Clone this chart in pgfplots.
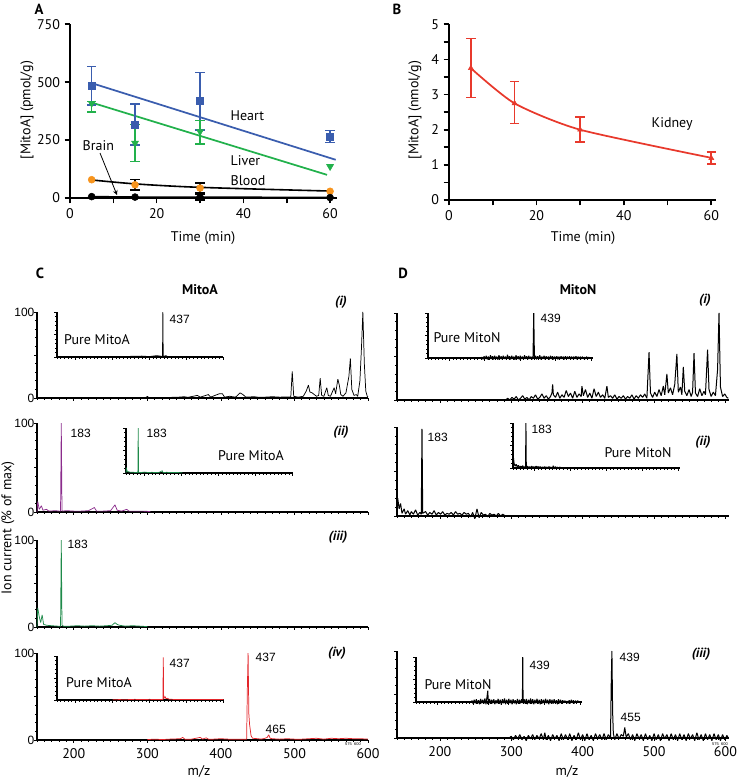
\documentclass[border=0pt]{standalone}
\usepackage{pgfplots}
\pgfplotsset{compat=1.18}
\usepackage{fontspec}
\setmainfont{PT Sans}
\newfontfamily\arialf{Liberation Sans}
\definecolor{heart}{HTML}{3A5DAE}
\definecolor{liver}{HTML}{22B14C}
\definecolor{blood}{HTML}{F7941D}
\definecolor{kid}{HTML}{E8392C}
\definecolor{purp}{HTML}{8B2C8C}
\definecolor{sgreen}{HTML}{1E8A4A}
\definecolor{sred}{HTML}{E3262B}
\newcommand\mf{\fontsize{10.5}{12}\selectfont}
\newcommand\af{\arialf\fontsize{9}{10}\selectfont}
\pgfplotsset{
 tabAB/.style={scale only axis, anchor=south west, axis lines=left, axis line style={line width=1.4pt,-}, tick style={black, line width=1.2pt}, tick align=outside, major tick length=4pt, minor tick length=4pt, tick label style={font=\mf}, /pgf/number format/assume math mode=true, clip=false, xmin=0, xtick={0,20,40,60}, minor xtick={10,30,50}},
 spec/.style={scale only axis, anchor=south west, axis lines=left, axis line style={line width=1pt,-}, tick style={black, line width=0.5pt}, tick align=outside, major tick length=2.2pt, minor tick length=1.4pt, ymin=0, ymax=100, ytick={0,50,100}, minor ytick={10,20,...,90}, yticklabels={}, xticklabels={}, clip=false},
 specC/.style={spec, xmin=150, xmax=600, xtick={200,300,...,600}, minor xtick={150,160,...,600}},
 specD/.style={spec, xmin=140, xmax=605, xtick={200,300,...,600}, minor xtick={140,150,...,600}},
 sp/.style={line width=0.55pt, line join=bevel, mark=none},
 spd/.style={line width=0.75pt, line join=bevel, mark=none},
 eb/.style={draw=none, mark=none, error bars/.cd, y dir=both, y explicit, error mark=-, error bar style={draw=#1, line width=1.2pt, solid}, error mark options={draw=#1, line width=1.2pt, mark size=3.5pt, rotate=90}},
}
\newcommand\at[2]{at={({#1*0.75pt},{-#2*0.75pt})}}
\begin{document}
\begin{tikzpicture}
\path[use as bounding box] (0,0) rectangle (558.75pt,-584.25pt);

% ---------------- Panel A
\begin{axis}[tabAB, \at{70}{198}, width=200.25pt, height=130.3pt, xmax=61.6, ymin=0, ymax=750, ytick={0,250,500,750}]
\addplot[heart, line width=1.3pt] coordinates {(5,496) (61.3,165)};
\addplot[liver, line width=1.3pt] coordinates {(5,412) (59.3,100)};
\addplot[black, line width=1.2pt, smooth] coordinates {(5,78) (15,61) (30,46) (60,30)};
\addplot[black, line width=1.2pt] coordinates {(5,6) (15,4) (30,4) (60,2)};
\addplot[eb=heart] coordinates {(5,484) += (0,83) -= (0,82) (15,316) += (0,89) -= (0,86) (30,419) += (0,122) -= (0,125) (60,266) += (0,25) -= (0,26)};
\addplot[only marks, mark=square*, mark size=2.7pt, heart] coordinates {(5,484) (15,316) (30,419) (60,266)};
\addplot[eb=liver] coordinates {(5,409) += (0,7) -= (0,37) (15,237) +- (0,80) (30,287) += (0,48) -= (0,54)};
\addplot[only marks, mark=triangle*, mark options={rotate=180}, mark size=3pt, liver] coordinates {(5,409) (15,237) (30,287) (60,136)};
\addplot[eb=black] coordinates {(15,57) +- (0,23) (30,43) +- (0,22) (30,4) +- (0,12)};
\addplot[only marks, mark=*, mark size=2.6pt, blood] coordinates {(5,79) (15,57) (30,43) (60,29)};
\addplot[only marks, mark=*, mark size=2.6pt, black] coordinates {(5,6) (15,4) (30,4) (60,2)};
\end{axis}

% ---------------- Panel B
\begin{axis}[tabAB, \at{449}{200}, width=200pt, height=131.8pt, xmax=61, ymin=0, ymax=5, ytick={0,1,...,5}, minor ytick={0.5,1.5,...,4.5}]
\addplot[kid, line width=1.3pt, smooth, tension=0.4] coordinates {(5,3.75) (15,2.75) (30,2.0) (60,1.2)};
\addplot[eb=kid] coordinates {(5,3.75) += (0,0.85) -= (0,0.83) (15,2.75) += (0,0.62) -= (0,0.57) (30,2.0) += (0,0.37) -= (0,0.35) (60,1.19) += (0,0.17) -= (0,0.17)};
\addplot[only marks, mark=triangle*, mark size=2.2pt, kid] coordinates {(5,3.75) (15,2.75) (30,2.0) (60,1.19)};
\end{axis}

% C(i) main
\begin{axis}[specC, \at{37}{398}, width=248.25pt, height=64.5pt]
\addplot[sp, black] coordinates {(150,0.5)(200,0.5)(250,0.5)(298,0.5)(300,2)(302,0.5)(340,0.8)(350,1.5)(355,0.8)(368,3)(372,1)(383,4)(386,1)(398,5)(402,5)(405,1)(412,2)(420,1)(426,6)(430,4)(434,1)(445,1.5)(450,1)(460,1)(470,1.5)(480,1)(490,1.2)(495,1)(497,31)(499,2)(505,1)(512,2)(516,8)(519,15)(521,7)(524,6)(527,4)(530,2)(533,3)(535,23)(537,3)(540,2)(544,12)(546,3)(549,2)(551,6)(554,12)(556,5)(559,22)(561,15)(563,4)(566,2)(570,6)(574,25)(576,46)(578,10)(581,3)(584,4)(586,2)(589,20)(591,56)(593,100)(595,40)(597,8)(599,2)(600,1)};
\end{axis}
\begin{axis}[specC, \at{57}{357}, width=124.5pt, height=33.75pt]
\addplot[sp, black] coordinates {(150,0)(300,0.5)(380,2)(400,1)(420,3)(430,2)(436,1)(437,100)(438,1)(445,3)(450,1)(500,1)(550,0.5)(600,0.5)};
\end{axis}

% C(ii)
\begin{axis}[specC, \at{37}{512}, width=248.25pt, height=66.75pt]
\addplot[sp, purp] coordinates {(150,0)(151,12)(153,3)(156,7)(158,2)(163,3)(166,1)(175,1.5)(180,1)(182,1)(183,100)(184,1)(190,1.5)(200,1)(210,1)(220,1.5)(228,5)(231,1)(240,1)(250,1.5)(256,8)(259,2)(265,1)(272,3)(275,1)(285,1)(295,1)(304,0.5)};
\end{axis}
\begin{axis}[specC, \at{126}{473}, width=125pt, height=33.75pt]
\addplot[sp, sgreen] coordinates {(150,0)(151,12)(153,4)(156,3)(160,2)(170,1.5)(182,1)(183,100)(184,1.5)(190,1)(200,2)(210,1)(220,1.5)(230,1)(240,1.5)(248,5)(250,1)(260,1.5)(270,1)(280,1)(290,1)(302,0.5)};
\end{axis}

% C(iii)
\begin{axis}[specC, \at{37}{627}, width=248.25pt, height=65.25pt]
\addplot[sp, sgreen] coordinates {(150,0)(151,22)(153,12)(155,5)(157,14)(159,3)(163,2)(170,1.5)(178,1)(182,1)(183,100)(184,2)(186,1)(195,1)(205,1.5)(215,1)(225,1.5)(235,1)(245,1.5)(252,2)(256,5)(259,3)(262,2)(270,1)(280,1.5)(290,1)(300,0.5)};
\end{axis}

% C(iv)
\begin{axis}[specC, \at{37}{740}, width=248.25pt, height=65.25pt, xticklabels={200,300,400,500,600}, xticklabel style={font=\mf, yshift=-1pt}]
\addplot[sp, sred] coordinates {(300,0.5)(310,1)(320,0.5)(330,1)(345,1.5)(348,3)(351,1)(360,1)(372,3)(375,1)(380,2.5)(383,1)(390,1)(400,1.5)(410,1)(420,1)(430,1)(435,1)(436,60)(437,100)(438,30)(439,18)(441,5)(443,2)(450,1.5)(455,1)(460,2)(463,3)(465,6)(467,2)(470,1.5)(480,1)(490,1.5)(500,1)(510,1)(520,1.5)(530,2)(540,1)(550,2)(560,1.5)(570,2)(580,1.5)(590,1.5)(600,1)};
\end{axis}
\begin{axis}[specC, \at{57}{700}, width=125pt, height=33pt]
\addplot[sp, sred] coordinates {(300,0.5)(320,1)(330,0.5)(345,1)(360,1.5)(380,1)(400,1.5)(420,1)(432,1)(436,1)(437,97)(438,3)(442,8)(444,3)(448,4)(452,2)(460,1.5)(480,1)(500,1)(520,1)(540,1)(560,1)(580,1)(600,1)};
\end{axis}

% D(i)
\begin{axis}[specD, \at{397}{400}, width=249pt, height=65.25pt]
\addplot[spd, black] coordinates {(292,0)(295,2)(298,0)(301,3)(304,1)(307,4)(310,0)(313,2)(316,5)(319,1)(322,3)(325,0)(328,4)(331,2)(334,6)(337,1)(340,3)(343,7)(346,2)(349,5)(352,1)(355,4)(357,8)(358,18)(359,6)(362,3)(365,9)(368,2)(371,6)(374,3)(377,11)(380,4)(383,8)(386,2)(389,10)(392,3)(395,7)(398,4)(399,16)(401,5)(404,12)(407,3)(410,8)(413,2)(416,13)(419,4)(422,9)(425,3)(428,6)(431,2)(434,16)(436,3)(439,5)(442,2)(445,6)(448,1)(451,4)(454,2)(457,5)(460,1)(463,4)(466,2)(469,6)(472,1)(475,5)(478,2)(481,6)(484,3)(487,7)(490,2)(493,55)(495,8)(498,3)(501,9)(504,4)(507,12)(510,5)(513,16)(515,6)(518,30)(520,8)(523,14)(526,6)(529,18)(532,53)(534,9)(537,15)(539,6)(541,38)(543,10)(546,5)(549,12)(552,4)(554,9)(556,54)(558,8)(561,4)(564,13)(567,5)(570,10)(572,6)(575,58)(577,12)(580,4)(583,9)(586,5)(589,35)(591,100)(593,15)(596,4)(599,7)(602,3)(604,2)};
\end{axis}
\begin{axis}[specD, \at{428}{358}, width=123.75pt, height=33.75pt]
\addplot[spd, black] coordinates {(140,0)(290,0)(292,2)(295,-3)(298,4)(301,-2)(304,5)(307,-3)(310,3)(313,-4)(316,6)(319,-2)(322,4)(325,-3)(328,5)(331,-2)(334,3)(337,-4)(340,6)(343,-2)(346,4)(349,-3)(352,5)(355,-2)(358,3)(361,-3)(364,7)(367,-2)(370,4)(373,-3)(376,5)(379,-2)(382,3)(385,-4)(388,6)(391,-2)(394,4)(397,-3)(400,5)(403,-2)(406,3)(409,-3)(412,6)(415,-2)(418,4)(421,-3)(424,5)(427,-2)(430,3)(433,-3)(436,4)(438,100)(440,-2)(443,5)(446,-3)(449,4)(452,-2)(455,6)(458,-3)(461,3)(464,-2)(467,5)(470,-3)(473,4)(476,-2)(479,3)(482,-3)(485,5)(488,-2)(491,4)(494,-3)(497,3)(500,-2)(503,4)(506,-3)(509,3)(512,-2)(515,4)(518,-2)(521,3)(524,-3)(527,4)(530,-2)(533,3)(536,-2)(539,4)(542,-3)(545,3)(548,-2)(551,3)(554,-2)(557,4)(560,-3)(563,3)(566,-2)(569,3)(572,-2)(575,3)(578,-2)(581,2)(584,-2)(587,3)(590,-2)(593,2)(596,-1)(600,1)};
\end{axis}

% D(ii)
\begin{axis}[specD, \at{397}{516}, width=249pt, height=66.75pt]
\addplot[spd, black] coordinates {(140,0)(141,20)(143,8)(145,14)(147,3)(150,8)(152,2)(155,6)(158,1)(160,5)(163,2)(166,7)(169,1)(172,4)(174,2)(175,98)(176,3)(180,5)(183,1)(186,4)(189,2)(192,6)(195,1)(198,4)(201,2)(204,5)(207,1)(210,3)(213,2)(216,4)(219,1)(222,5)(225,2)(228,3)(231,1)(234,4)(237,2)(240,3)(243,-1)(246,4)(249,-3)(252,8)(255,-2)(258,4)(261,1)(264,2)(267,-1)(270,3)(273,1)(276,2)(279,0)(282,3)(285,0)(288,2)(292,0)};
\end{axis}
\begin{axis}[specD, \at{513}{468}, width=125.25pt, height=33.75pt]
\addplot[spd, black] coordinates {(140,0)(141,25)(143,10)(146,4)(149,8)(152,2)(155,6)(158,1)(161,4)(164,2)(167,5)(170,1)(173,3)(175,2)(176,100)(177,2)(180,4)(183,1)(186,3)(189,1)(192,4)(195,1)(198,3)(201,1)(204,4)(207,2)(210,3)(213,1)(216,3)(219,1)(222,2)(225,1)(228,3)(231,1)(234,2)(237,1)(240,3)(243,1)(246,2)(249,-2)(252,5)(255,-2)(258,3)(261,0)(264,2)(267,-1)(270,2)(275,0)(280,1)(285,0)(292,0)};
\end{axis}

% D(iii)
\begin{axis}[specD, \at{397}{738}, width=249pt, height=65.25pt, xticklabels={200,300,400,500,600}, xticklabel style={font=\mf, yshift=-1pt}]
\addplot[spd, black] coordinates {(297,0)(300,2)(303,-2)(306,3)(309,-1)(312,4)(315,-2)(318,2)(321,-3)(324,3)(327,-1)(330,4)(333,-2)(336,3)(339,-1)(342,5)(345,-2)(347,6)(349,-2)(352,3)(355,-3)(358,4)(361,-1)(364,3)(367,-3)(370,5)(373,-2)(376,4)(379,-2)(382,5)(385,-3)(388,3)(391,-2)(394,6)(397,-2)(400,4)(403,-3)(406,5)(409,-2)(412,3)(415,-3)(418,5)(421,-1)(424,4)(427,-2)(430,5)(433,-2)(436,4)(439,0)(440,60)(441,100)(442,30)(443,5)(445,-2)(448,5)(451,-1)(454,4)(457,2)(459,12)(461,1)(464,5)(467,-2)(470,4)(473,-3)(476,5)(479,-1)(482,4)(485,-3)(488,5)(491,-2)(494,3)(497,-3)(500,5)(503,-2)(506,4)(509,-3)(512,5)(515,-1)(518,4)(521,-3)(524,5)(527,-2)(530,4)(533,-3)(536,5)(539,-2)(542,4)(545,-3)(548,5)(551,-1)(554,4)(557,-3)(560,6)(563,-2)(566,4)(569,-3)(572,5)(575,-2)(578,4)(581,-3)(584,5)(587,-2)(590,4)(593,-3)(596,4)(599,-2)(602,3)(604,0)};
\end{axis}
\begin{axis}[specD, \at{416}{702}, width=124.5pt, height=33.75pt]
\addplot[spd, black] coordinates {(294,0)(297,3)(300,-4)(303,5)(306,-3)(309,6)(312,-4)(315,4)(318,-5)(321,7)(324,-3)(327,5)(330,-4)(333,8)(336,-5)(339,12)(341,25)(343,-6)(346,7)(349,-4)(352,5)(355,-3)(358,6)(361,-5)(364,4)(367,-3)(370,7)(373,-4)(376,5)(379,-6)(382,6)(385,-3)(388,8)(391,-5)(394,5)(397,-4)(400,7)(403,-3)(406,5)(409,-5)(412,6)(415,-3)(418,4)(421,-5)(424,7)(427,-4)(430,5)(433,-3)(436,6)(438,-2)(439,100)(440,-3)(443,6)(446,-4)(449,7)(452,-5)(455,5)(458,-3)(461,8)(464,-4)(467,6)(470,-5)(473,5)(476,-3)(479,7)(482,-4)(485,5)(488,-5)(491,6)(494,-3)(497,5)(500,-4)(503,7)(506,-3)(509,5)(512,-5)(515,6)(518,-3)(521,5)(524,-4)(527,6)(530,-3)(533,4)(536,-5)(539,6)(542,-3)(545,5)(548,-4)(551,4)(554,-2)(557,3)(560,-1)(563,2)(566,-3)(569,4)(572,-3)(575,5)(578,-2)(581,4)(584,-3)(587,3)(590,-2)(593,3)(596,-1)(600,0)};
\end{axis}

% ---------------- all texts, in pixel coordinates
\begin{scope}[x=0.75pt,y=-0.75pt]
\node[font=\mf, rotate=90] at (27,110) {[MitoA] (pmol/g)};
\node[font=\mf] at (203,238) {Time (min)};
\node[font=\mf, anchor=west] at (226,116) {Heart};
\node[font=\mf, anchor=west] at (226,161) {Liver};
\node[font=\mf, anchor=west] at (226,181) {Blood};
\node[font=\mf, anchor=west] at (78,146) {Brain};
\draw[-stealth, line width=0.6pt] (100,153) -- (117,195);
\node[font=\fontsize{11}{12}\selectfont\bfseries] at (39,9) {A};
\node[font=\mf, rotate=90] at (415,110) {[MitoA] (nmol/g)};
\node[font=\mf] at (583,238) {Time (min)};
\node[font=\mf, anchor=west] at (647,124) {Kidney};
\node[font=\fontsize{11}{12}\selectfont\bfseries] at (397,9) {B};
\node[font=\fontsize{11}{12}\selectfont\bfseries] at (40,273) {C};
\node[font=\fontsize{10.5}{12}\selectfont\bfseries] at (200,290) {MitoA};
\node[font=\fontsize{11}{12}\selectfont\bfseries] at (403,273) {D};
\node[font=\fontsize{10.5}{12}\selectfont\bfseries] at (578,290) {MitoN};
\node[font=\mf, rotate=90] at (8,528) {Ion current (\% of max)};
\node[font=\af, anchor=west] at (165,319) {437};
\node[font=\mf] at (97,340) {Pure MitoA};
\node[font=\fontsize{10}{12}\selectfont\bfseries\itshape] at (341,302) {(i)};
\node[font=\af, anchor=east, inner sep=1pt] at (36,312) {100};
\node[font=\af, anchor=east, inner sep=1pt] at (36,398) {0};
\node[font=\af, anchor=west] at (66,433) {183};
\node[font=\af, anchor=west] at (142,433) {183};
\node[font=\mf] at (251,456) {Pure MitoA};
\node[font=\fontsize{10}{12}\selectfont\bfseries\itshape] at (341,432) {(ii)};
\node[font=\af, anchor=east, inner sep=1pt] at (36,423) {100};
\node[font=\af, anchor=east, inner sep=1pt] at (36,512) {0};
\node[font=\af, anchor=west] at (63,544) {183};
\node[font=\fontsize{10}{12}\selectfont\bfseries\itshape] at (338,537) {(iii)};
\node[font=\af, anchor=east, inner sep=1pt] at (36,540) {100};
\node[font=\af, anchor=east, inner sep=1pt] at (36,627) {0};
\node[font=\af, anchor=west] at (251,657) {437};
\node[font=\af, anchor=west] at (261,729) {465};
\node[font=\af, anchor=west] at (165,663) {437};
\node[font=\mf] at (99,683) {Pure MitoA};
\node[font=\fontsize{10}{12}\selectfont\bfseries\itshape] at (337,653) {(iv)};
\node[font=\af, anchor=east, inner sep=1pt] at (36,653) {100};
\node[font=\af, anchor=east, inner sep=1pt] at (36,740) {0};
\node[font=\mf] at (199,771) {m/z};
\node[font=\arialf\fontsize{3}{3}\selectfont, inner sep=0pt] at (353,744) {575\ \ 600};
\node[font=\af, anchor=west] at (536,318) {439};
\node[font=\mf] at (467,338) {Pure MitoN};
\node[font=\fontsize{10}{12}\selectfont\bfseries\itshape] at (705,300) {(i)};
\node[font=\af, anchor=west] at (423,437) {183};
\node[font=\af, anchor=west] at (527,429) {183};
\node[font=\mf] at (638,453) {Pure MitoN};
\node[font=\fontsize{10}{12}\selectfont\bfseries\itshape] at (703,442) {(ii)};
\node[font=\af, anchor=west] at (615,657) {439};
\node[font=\af, anchor=west] at (616,717) {455};
\node[font=\af, anchor=west] at (525,665) {439};
\node[font=\mf] at (458,685) {Pure MitoN};
\node[font=\fontsize{10}{12}\selectfont\bfseries\itshape] at (701,654) {(iii)};
\node[font=\mf] at (567,771) {m/z};
\node[font=\arialf\fontsize{3}{3}\selectfont, inner sep=0pt] at (720,744) {575\ \ 600};
\end{scope}
\end{tikzpicture}
\end{document}
